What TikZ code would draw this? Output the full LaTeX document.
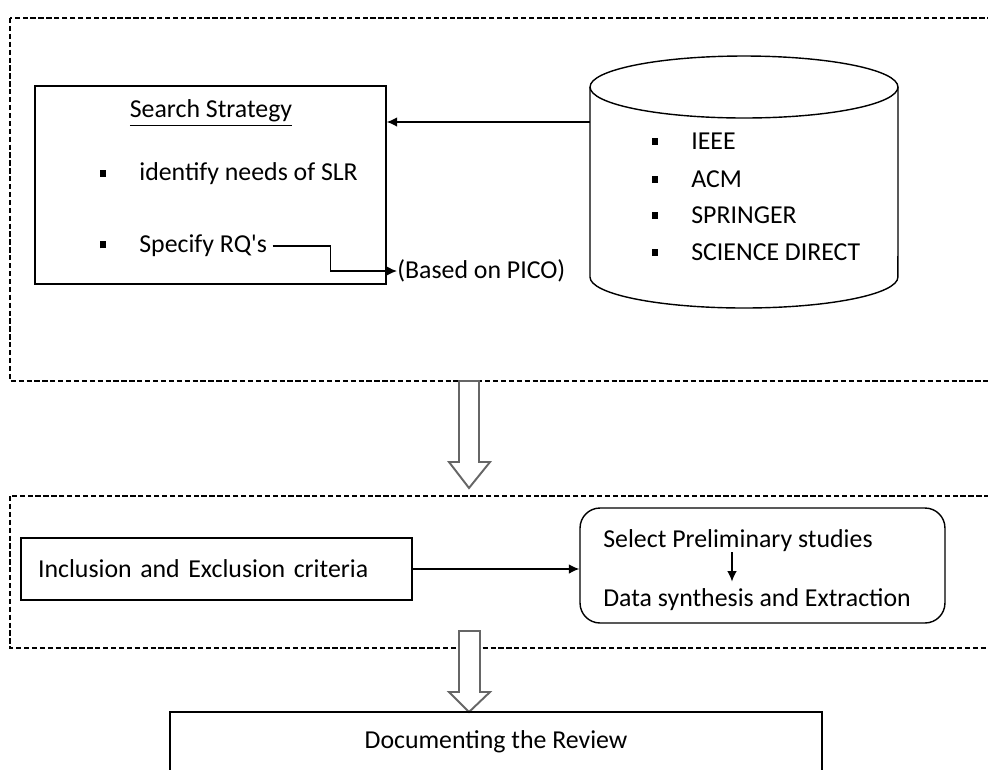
\documentclass[tikz,border=0pt]{standalone}
\usepackage{fontspec}
\setmainfont{Carlito}
\usetikzlibrary{arrows.meta}
\newcommand{\sqbul}{\rule[0.35ex]{3.4pt}{4pt}}
\newcommand{\bulitem}[1]{\makebox[0.78cm][l]{\sqbul}#1}
\begin{document}
\begin{tikzpicture}[x=0.02cm,y=0.02cm,font=\fontsize{14.7}{17}\selectfont,
	box/.style={draw,line width=0.8pt,inner sep=0pt},
	stage/.style={draw,dash pattern=on 3pt off 1.5pt,line width=0.6pt},
	txt/.style={inner sep=0pt,anchor=west},
	arr/.style={-{Latex[length=6pt,width=5.5pt]},line width=0.8pt},
	bigarrow/.style={draw=black!60,line width=1.1pt,fill=white}]
	\useasboundingbox (0,0) rectangle (988,-769);
	\clip (0,0) rectangle (988,-769);
	% the two stages
	\draw[stage] (10,-18) rectangle (1000,-381);
	\draw[stage] (10,-496) rectangle (1000,-648);
	\draw[bigarrow] (459,-381) -- (459,-462) -- (449,-462) -- (469,-488) -- (490,-462) -- (479,-462) -- (479,-381) -- cycle;
	\draw[bigarrow] (459,-631) -- (459,-692) -- (449,-692) -- (469,-712) -- (490,-692) -- (480,-692) -- (480,-631) -- cycle;
	% search strategy
	\node[box,minimum width=7.02cm,minimum height=3.96cm] (search) at (210.5,-185) {};
	\node[inner sep=0pt] (title) at (211,-113) {\underline{Search Strategy}};
	\node[txt] (needs) at (100,-174) {\bulitem{identify needs of SLR}};
	\node[txt] (rq) at (100,-246) {\bulitem{Specify RQ\textquotesingle s}};
	\node[txt] (pico) at (397,-271) {(Based on PICO)};
	\draw[arr] ([xshift=3pt]rq.east) -- ++(58,0) |- (pico.west);
	% databases
	\draw[box] (590,-87) -- (590,-277) arc[start angle=180,end angle=360,x radius=3.08cm,y radius=0.62cm] -- (898,-87);
	\draw[box] (744,-87) ellipse [x radius=3.08cm,y radius=0.62cm];
	\node[txt] (ieee) at (652,-141) {\bulitem{IEEE}};
	\node[txt] (acm) at (652,-179) {\bulitem{ACM}};
	\node[txt] (springer) at (652,-215) {\bulitem{SPRINGER}};
	\node[txt] (sd) at (652,-252) {\bulitem{SCIENCE DIRECT}};
	\coordinate (dbport) at (590,-122);
	\draw[arr] (dbport) -- (dbport -| search.east);
	% selection
	\node[box,inner xsep=0.34cm,text width=7.14cm,align=left,minimum height=1.24cm] (incl) at (216.5,-569) {Inclusion and Exclusion criteria};
	\node[box,rounded corners=0.4cm,minimum width=7.3cm,minimum height=2.3cm] (sel) at (762.5,-565.5) {};
	\node[txt] (prelim) at (603,-541) {Select Preliminary studies};
	\node[txt] (synth) at (603,-600) {Data synthesis and Extraction};
	\coordinate (flow) at (732,0);
	\draw[arr] (prelim.south -| flow) -- ([yshift=4pt]synth.north -| flow);
	\draw[arr] (incl.east) -- (incl.east -| sel.west);
	% documenting
	\node[box,minimum width=13.04cm,minimum height=1.2cm] (doc) at (496,-742) {Documenting the Review};
\end{tikzpicture}
\end{document}
